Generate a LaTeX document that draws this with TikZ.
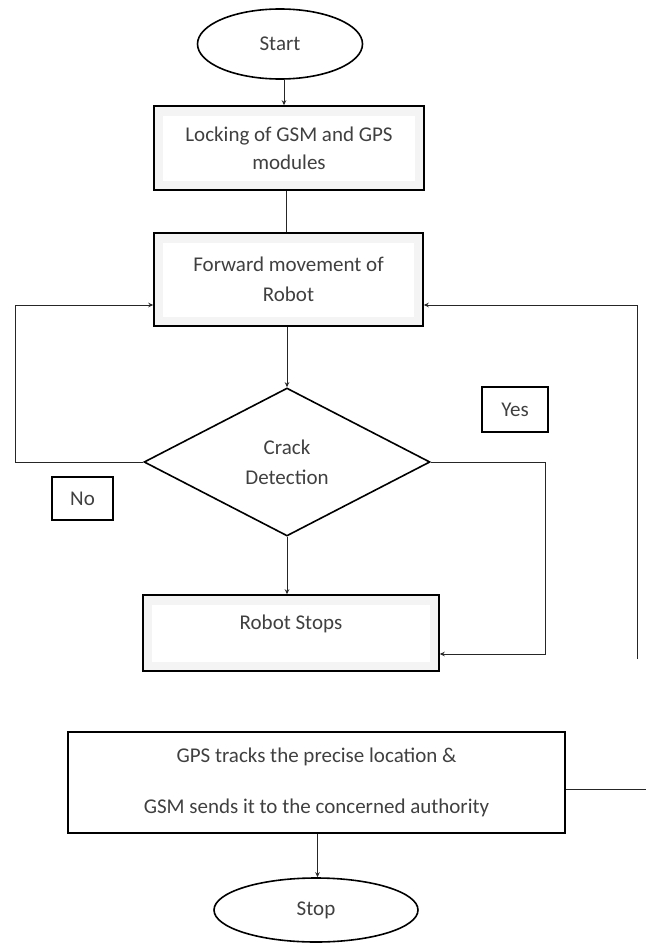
\documentclass[tikz,border=0pt]{standalone}
\usepackage{fontspec}
\setmainfont{Carlito}
\usetikzlibrary{shapes.geometric,arrows.meta}
\begin{document}
\begin{tikzpicture}[x=1pt,y=-1pt,
  txt/.style={font=\fontsize{21}{30}\selectfont, text=black!75},
  shadebox/.style={draw=black, line width=1.5pt, fill=gray!9, inner sep=0pt, txt, align=center,
    path picture={\fill[white] ([shift={(9pt,-10pt)}]path picture bounding box.north west) rectangle ([shift={(-9pt,9pt)}]path picture bounding box.south east);}},
  plainbox/.style={draw=black, line width=1.5pt, inner sep=0pt, txt, align=center},
  tagbox/.style={draw=black, line width=2.2pt, inner sep=0pt, txt},
  term/.style={draw=black, ellipse, line width=1.6pt, inner sep=0pt, txt},
  decision/.style={draw=black, diamond, line width=1.6pt, inner sep=0pt, txt, align=center},
  conn/.style={line width=0.9pt, draw=black!85},
  arr/.style={conn, -{Stealth[length=5pt,width=4.5pt]}}
]
\useasboundingbox (0,0) rectangle (646,944);

\node[term, minimum width=165pt, minimum height=70pt] (start) at (280,44) {Start};
\node[shadebox, minimum width=270pt, minimum height=84pt] (lock) at (289,148)
  {Locking of GSM and GPS\\[-2pt]modules};
\node[shadebox, minimum width=269pt, minimum height=93pt] (fwd) at (288.5,279.5)
  {Forward movement of\\Robot};
\node[decision, minimum width=286pt, minimum height=148pt] (crack) at (287,462)
  {Crack\\Detection};
\node[shadebox, minimum width=296pt, minimum height=76pt, text depth=22pt] (rstop) at (291,633)
  {Robot Stops};
\node[plainbox, minimum width=497pt, minimum height=101pt, font=\fontsize{21}{51}\selectfont] (gps) at (316.5,782.5)
  {GPS tracks the precise location \&\\GSM sends it to the concerned authority};
\node[term, minimum width=204pt, minimum height=64pt] (stop) at (316,910) {Stop};

\node[tagbox, minimum width=61pt, minimum height=43pt] (no) at (82.5,498.5) {No};
\node[tagbox, minimum width=66pt, minimum height=45pt] (yes) at (515,409.5) {Yes};

\coordinate (nlb) at (15,462);
\coordinate (nlt) at (15,305);
\coordinate (yc) at (545,654);
\coordinate (rb) at (637,659);
\coordinate (rt) at (637,305);
\coordinate (ge) at (646,789);

\draw[arr] ([xshift=4pt]start.south) -- ([xshift=4pt]start.south |- lock.north);
\draw[conn] ([xshift=-3pt]lock.south) -- ([xshift=-3pt]lock.south |- fwd.north);
\draw[arr] (fwd.south -| crack.north) -- (crack.north);
\draw[arr] (crack.south) -- (crack.south |- rstop.north);
\draw[arr] (crack.west) -- (nlb) -- (nlt) -- (nlt -| fwd.west);
\draw[arr] (crack.east) -| (yc) -- (yc -| rstop.east);
\draw[arr] (rb) -- (rt) -- (rt -| fwd.east);
\draw[conn] (ge -| gps.east) -- (ge);
\draw[arr] ([xshift=1.5pt]gps.south -| stop.north) -- ([xshift=1.5pt]stop.north);
\end{tikzpicture}
\end{document}
